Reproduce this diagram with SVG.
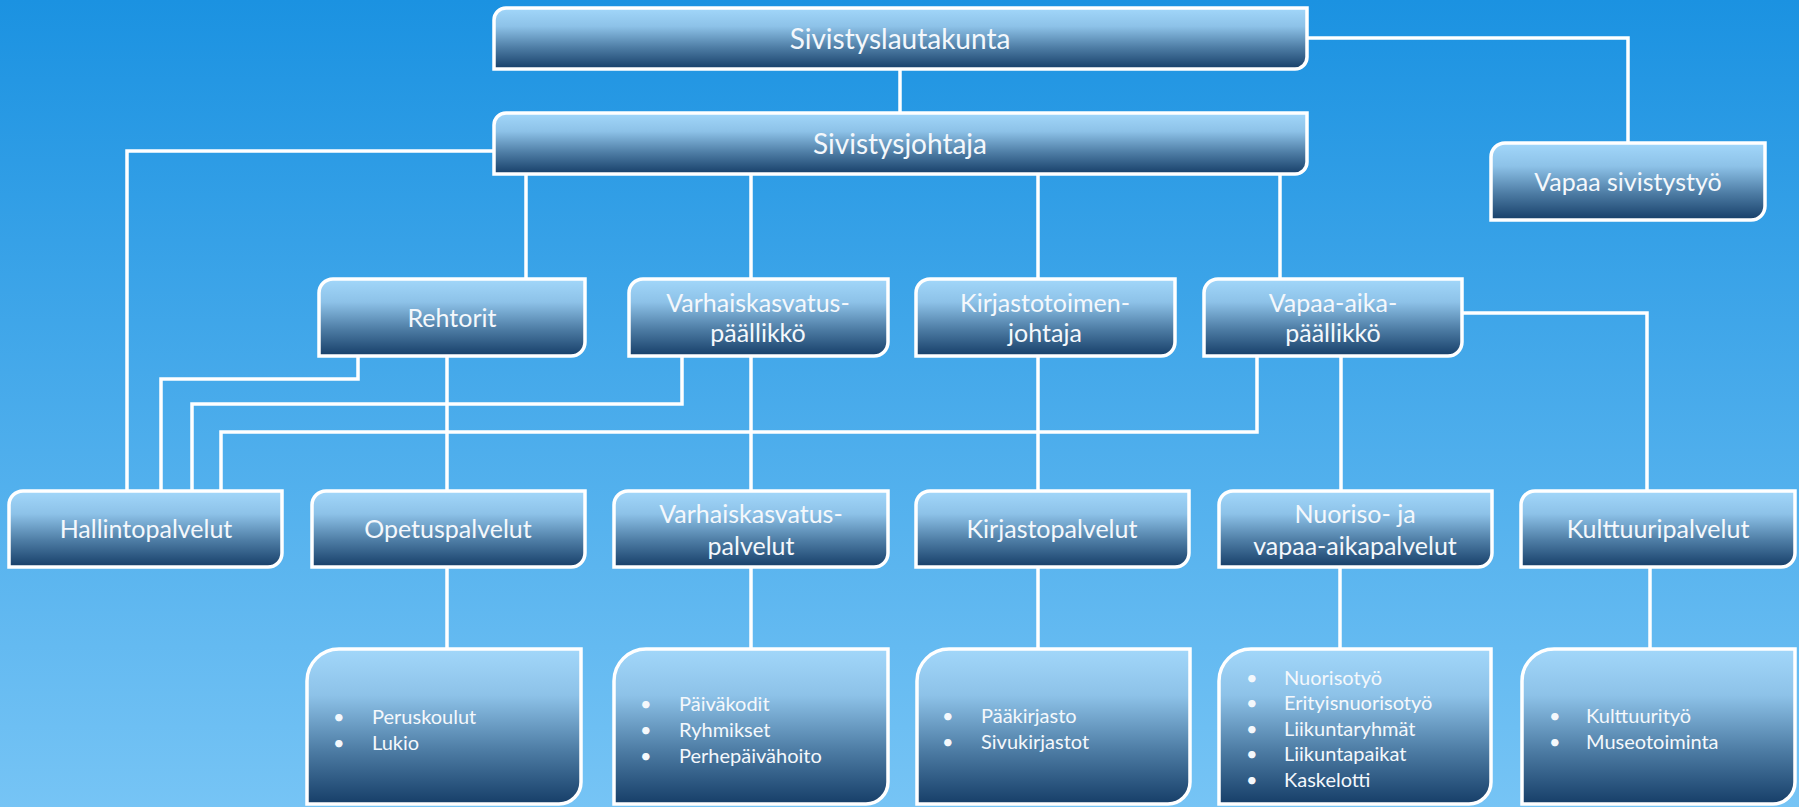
<svg xmlns="http://www.w3.org/2000/svg" width="1799" height="807" viewBox="0 0 1799 807">
<defs>
<linearGradient id="bg" x1="0" y1="0" x2="0" y2="1">
<stop offset="0" stop-color="#1B92E1"/>
<stop offset="1" stop-color="#76C4F5"/>
</linearGradient>
<linearGradient id="box" x1="0" y1="0" x2="0" y2="1">
<stop offset="0" stop-color="#A2D7FA"/>
<stop offset="0.3" stop-color="#8DC2E8"/>
<stop offset="0.65" stop-color="#4E7DA5"/>
<stop offset="1" stop-color="#163E68"/>
</linearGradient>
<style>
.b{fill:url(#box);stroke:#fff;stroke-width:3.5}
.t{font-family:Lato,"Liberation Sans",sans-serif;fill:#F4F8FC;text-anchor:middle}
.t1{font-size:28px}
.t2{font-size:25px}
.l{font-family:Lato,"Liberation Sans",sans-serif;fill:#F4F8FC;font-size:20px}
.c{fill:none;stroke:#fff;stroke-width:3.5}
</style>
</defs>
<rect x="0" y="0" width="1799" height="807" fill="url(#bg)"/>
<g id="connectors" class="c">
<path d="M900 68V113"/>
<path d="M1307 38H1628V143"/>
<path d="M494 151H127V491"/>
<path d="M526 173V279"/>
<path d="M751 173V279"/>
<path d="M1038 173V279"/>
<path d="M1280 173V279"/>
<path d="M447 356V491"/>
<path d="M358 356V379H161V491"/>
<path d="M682 356V404H192V491"/>
<path d="M1257 356V432H221V491"/>
<path d="M751 356V491"/>
<path d="M1038 356V491"/>
<path d="M1341 356V491"/>
<path d="M1462 313H1647V491"/>
<path d="M447 567V649"/>
<path d="M751 567V649"/>
<path d="M1038 567V649"/>
<path d="M1340 567V649"/>
<path d="M1650 567V649"/>
</g>
<g id="n-sivistyslautakunta">
<path class="b" d="M494 20A12 12 0 0 1 506 8H1307V57A12 12 0 0 1 1295 69H494Z"/>
<text class="t t1" x="900" y="49">Sivistyslautakunta</text>
</g>
<g id="n-sivistysjohtaja">
<path class="b" d="M494 125A12 12 0 0 1 506 113H1307V162A12 12 0 0 1 1295 174H494Z"/>
<text class="t t1" x="900" y="154">Sivistysjohtaja</text>
</g>
<g id="n-vapaa-sivistystyo">
<path class="b" d="M1491 157A14 14 0 0 1 1505 143H1765V206A14 14 0 0 1 1751 220H1491Z"/>
<text class="t t2" x="1628" y="191">Vapaa sivistystyö</text>
</g>
<g id="n-rehtorit">
<path class="b" d="M319 293A14 14 0 0 1 333 279H585V342A14 14 0 0 1 571 356H319Z"/>
<text class="t t2" x="452" y="327">Rehtorit</text>
</g>
<g id="n-varhaiskasvatuspaallikko">
<path class="b" d="M629 293A14 14 0 0 1 643 279H888V342A14 14 0 0 1 874 356H629Z"/>
<text class="t t2" x="758" y="312">Varhaiskasvatus-</text>
<text class="t t2" x="758" y="342">päällikkö</text>
</g>
<g id="n-kirjastotoimenjohtaja">
<path class="b" d="M916 293A14 14 0 0 1 930 279H1175V342A14 14 0 0 1 1161 356H916Z"/>
<text class="t t2" x="1045" y="312">Kirjastotoimen-</text>
<text class="t t2" x="1045" y="342">johtaja</text>
</g>
<g id="n-vapaa-aikapaallikko">
<path class="b" d="M1204 293A14 14 0 0 1 1218 279H1462V342A14 14 0 0 1 1448 356H1204Z"/>
<text class="t t2" x="1333" y="312">Vapaa-aika-</text>
<text class="t t2" x="1333" y="342">päällikkö</text>
</g>
<g id="n-hallintopalvelut">
<path class="b" d="M9 505A14 14 0 0 1 23 491H282V553A14 14 0 0 1 268 567H9Z"/>
<text class="t t2" x="146" y="538">Hallintopalvelut</text>
</g>
<g id="n-opetuspalvelut">
<path class="b" d="M312 505A14 14 0 0 1 326 491H585V553A14 14 0 0 1 571 567H312Z"/>
<text class="t t2" x="448" y="538">Opetuspalvelut</text>
</g>
<g id="n-varhaiskasvatuspalvelut">
<path class="b" d="M614 505A14 14 0 0 1 628 491H888V553A14 14 0 0 1 874 567H614Z"/>
<text class="t t2" x="751" y="523">Varhaiskasvatus-</text>
<text class="t t2" x="751" y="555">palvelut</text>
</g>
<g id="n-kirjastopalvelut">
<path class="b" d="M916 505A14 14 0 0 1 930 491H1189V553A14 14 0 0 1 1175 567H916Z"/>
<text class="t t2" x="1052" y="538">Kirjastopalvelut</text>
</g>
<g id="n-nuoriso">
<path class="b" d="M1219 505A14 14 0 0 1 1233 491H1492V553A14 14 0 0 1 1478 567H1219Z"/>
<text class="t t2" x="1355" y="523">Nuoriso- ja</text>
<text class="t t2" x="1355" y="555">vapaa-aikapalvelut</text>
</g>
<g id="n-kulttuuripalvelut">
<path class="b" d="M1521 505A14 14 0 0 1 1535 491H1795V553A14 14 0 0 1 1781 567H1521Z"/>
<text class="t t2" x="1658" y="538">Kulttuuripalvelut</text>
</g>
<g id="n-opetus-list">
<path class="b" d="M307 681A32 32 0 0 1 339 649H581V782A22 22 0 0 1 559 804H307Z"/>
<text class="l" x="333" y="724">•</text><text class="l" x="372" y="724">Peruskoulut</text>
<text class="l" x="333" y="750">•</text><text class="l" x="372" y="750">Lukio</text>
</g>
<g id="n-varhais-list">
<path class="b" d="M614 681A32 32 0 0 1 646 649H888V782A22 22 0 0 1 866 804H614Z"/>
<text class="l" x="640" y="711">•</text><text class="l" x="679" y="711">Päiväkodit</text>
<text class="l" x="640" y="737">•</text><text class="l" x="679" y="737">Ryhmikset</text>
<text class="l" x="640" y="763">•</text><text class="l" x="679" y="763">Perhepäivähoito</text>
</g>
<g id="n-kirjasto-list">
<path class="b" d="M917 681A32 32 0 0 1 949 649H1190V782A22 22 0 0 1 1168 804H917Z"/>
<text class="l" x="942" y="723">•</text><text class="l" x="981" y="723">Pääkirjasto</text>
<text class="l" x="942" y="749">•</text><text class="l" x="981" y="749">Sivukirjastot</text>
</g>
<g id="n-nuoriso-list">
<path class="b" d="M1219 681A32 32 0 0 1 1251 649H1491V782A22 22 0 0 1 1469 804H1219Z"/>
<text class="l" x="1246" y="685">•</text><text class="l" x="1284" y="685">Nuorisotyö</text>
<text class="l" x="1246" y="710">•</text><text class="l" x="1284" y="710">Erityisnuorisotyö</text>
<text class="l" x="1246" y="736">•</text><text class="l" x="1284" y="736">Liikuntaryhmät</text>
<text class="l" x="1246" y="761">•</text><text class="l" x="1284" y="761">Liikuntapaikat</text>
<text class="l" x="1246" y="787">•</text><text class="l" x="1284" y="787">Kaskelotti</text>
</g>
<g id="n-kulttuuri-list">
<path class="b" d="M1522 681A32 32 0 0 1 1554 649H1795V782A22 22 0 0 1 1773 804H1522Z"/>
<text class="l" x="1549" y="723">•</text><text class="l" x="1586" y="723">Kulttuurityö</text>
<text class="l" x="1549" y="749">•</text><text class="l" x="1586" y="749">Museotoiminta</text>
</g>
</svg>
